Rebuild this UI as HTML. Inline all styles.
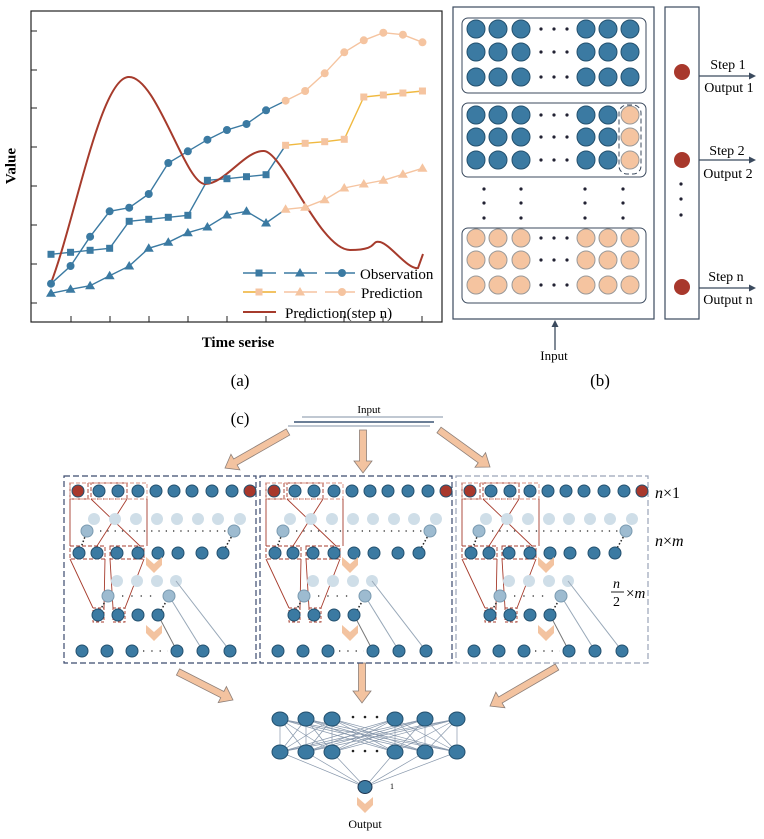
<!DOCTYPE html>
<html><head><meta charset="utf-8"><style>
body{margin:0;background:#fff}
svg text{font-family:"Liberation Serif",serif}
</style></head><body>
<svg id="s" xmlns="http://www.w3.org/2000/svg" width="764" height="834" viewBox="0 0 764 834">
<rect width="764" height="834" fill="#fff"/>
</svg>
<script>
const S=document.getElementById('s');let h='';
const B='#3b7aa2',BS='#23506e',P='#f5c4a0',R='#a63b2c';
function c(x,y,r,f,s){h+=`<circle cx="${x}" cy="${y}" r="${r}" fill="${f}" stroke="${s||'none'}" stroke-width="1"/>`;}
function ln(x1,y1,x2,y2,st,w,d){h+=`<line x1="${x1}" y1="${y1}" x2="${x2}" y2="${y2}" stroke="${st}" stroke-width="${w||1}" ${d?`stroke-dasharray="${d}"`:''}/>`;}
function t(x,y,s,sz,extra){h+=`<text x="${x}" y="${y}" font-size="${sz}" ${extra||''}>${s}</text>`;}
// ===== panel a
h+=`<rect x="31" y="11" width="411" height="311" fill="none" stroke="#222" stroke-width="1.2"/>`;
[31,70,108,147,186,225,264,303].forEach(y=>ln(31,y,37,y,'#222'));
for(let x=71;x<430;x+=39)ln(x,322,x,316,'#222');
const X=i=>51+i*19.55;
const cir=[283.7,266,236.7,211.3,207.7,194,163,151.3,139.7,130,124,110.3,100.7,91,73.3,52.3,40.3,32.7,34.7,42.3];
const sq=[254.3,252.3,250.3,248.3,221.3,219.3,217.3,215.3,180.3,178.7,176.7,174.7,145.3,143.3,141.7,139.3,97,95,93,91];
const tr=[293.3,289.3,285.7,275.7,266,248.3,242.3,232.7,227,215,211.3,223,209.3,207.3,199.7,188,184,180.3,174.3,168.3];
function poly(arr,a,b,col){let p=[];for(let i=a;i<=b;i++)p.push(X(i)+','+arr[i]);h+=`<polyline points="${p.join(' ')}" fill="none" stroke="${col}" stroke-width="1.4"/>`;}
function mk(type,x,y,col){if(type=='c')c(x,y,4,col);else if(type=='s')h+=`<rect x="${x-3.5}" y="${y-3.5}" width="7" height="7" fill="${col}"/>`;else h+=`<polygon points="${x},${y-5} ${x-5},${y+3.5} ${x+5},${y+3.5}" fill="${col}"/>`;}
poly(cir,0,12,B);poly(cir,12,19,P);poly(sq,0,12,B);poly(sq,12,19,'#f0b940');poly(tr,0,12,B);poly(tr,12,19,P);
h+=`<path d="M51,283 C75,220 100,80 128,77 S185,184 205,184 S245,150 264,151 S320,250 350,250 S370,240 380,242 S408,270 418,268 L423,254" fill="none" stroke="${R}" stroke-width="2"/>`;
for(let i=0;i<20;i++){const col=i<12?B:P;mk('c',X(i),cir[i],col);mk('s',X(i),sq[i],col);mk('t',X(i),tr[i],col);}
// legend
ln(243,273,355,273,B,1.4,'33 8');ln(243,292,355,292,P,1.4,'33 8');ln(243,292,276,292,'#f0b940',1.4);
mk('s',259,273,B);mk('t',300,273,B);mk('c',342,273,B);mk('s',259,292,P);mk('t',300,292,P);mk('c',342,292,P);
ln(243,312,276,312,R,2);
t(360,279,'Observation',15);t(361,298,'Prediction',15);t(285,318,'Prediction(step n)',15);
t(12,166,'Value',15,'font-weight="bold" transform="rotate(-90 12 166)" text-anchor="middle" dominant-baseline="middle"');
t(238,347,'Time serise',15,'font-weight="bold" text-anchor="middle"');
t(240,386,'(a)',17,'text-anchor="middle"');
// ===== panel b
h+=`<rect x="453" y="7" width="201" height="312" fill="none" stroke="#3b4a5e" stroke-width="1.2"/>`;
h+=`<rect x="665" y="7" width="34" height="312" fill="none" stroke="#3b4a5e" stroke-width="1.2"/>`;
[[18,93],[103,177],[228,303]].forEach(([a,b])=>h+=`<rect x="462" y="${a}" width="184" height="${b-a}" rx="6" fill="none" stroke="#3b4a5e" stroke-width="1"/>`);
const bx=[476,498,521,586,608,630],bd=[541,554,567];
const rows=[[29,52,77,'B'],[115,137,160,'M'],[238,260,285,'P']];
rows.forEach(r=>{for(let k=0;k<3;k++){const y=r[k];bx.forEach((x,j)=>{let f=B,s=BS;if(r[3]=='P'||(r[3]=='M'&&j==5)){f=P;s='#999';}c(x,y,9,f,s);});bd.forEach(x=>c(x,y,1.6,'#223'));}});
h+=`<rect x="619" y="105" width="22" height="69" rx="8" fill="none" stroke="#3b4a5e" stroke-dasharray="5 3"/>`;
[484,521,585,623].forEach(x=>[189,203,218].forEach(y=>c(x,y,1.6,'#223')));
[72,160,287].forEach(y=>c(682,y,8,'#a8382c'));[184,199,215].forEach(y=>c(681,y,1.6,'#223'));
function arr(x1,y,x2){ln(x1,y,x2-6,y,'#3b4a5e',1.3);h+=`<polygon points="${x2},${y} ${x2-7},${y-3.5} ${x2-7},${y+3.5}" fill="#3b4a5e"/>`;}
arr(699,76,756);arr(699,160,756);arr(699,288,756);
t(728,69,'Step 1',14,'text-anchor="middle"');t(729,92,'Output 1',14,'text-anchor="middle"');
t(727,155,'Step 2',14,'text-anchor="middle"');t(728,178,'Output 2',14,'text-anchor="middle"');
t(726,281,'Step n',14,'text-anchor="middle"');t(728,304,'Output n',14,'text-anchor="middle"');
ln(555,350,555,326,'#3b4a5e',1.3);h+=`<polygon points="555,320 551.5,327 558.5,327" fill="#3b4a5e"/>`;
t(554,360,'Input',13,'text-anchor="middle"');t(600,386,'(b)',17,'text-anchor="middle"');
// ===== panel c
t(240,424,'(c)',17,'text-anchor="middle"');t(369,413,'Input',11,'text-anchor="middle"');
ln(302,417,443,417,'#9aa8b8',1.2);ln(294,422,434,422,'#3b5575',1.4);ln(288,426,430,426,'#9aa8b8',1.2);
function parrow(x1,y1,x2,y2){const dx=x2-x1,dy=y2-y1,L=Math.hypot(dx,dy),a=Math.atan2(dy,dx)*180/Math.PI;
h+=`<polygon transform="translate(${x1},${y1}) rotate(${a})" points="0,-3.5 ${L-12},-3.5 ${L-12},-9 ${L},0 ${L-12},9 ${L-12},3.5 0,3.5" fill="#f3c3a0" stroke="#8d7f78" stroke-width="0.8"/>`;}
parrow(288,432,225,468);parrow(363,430,363,473);parrow(439,430,490,467);
parrow(178,672,233,700);parrow(362,663,362,703);parrow(557,667,490,706);
function chev(x,y){h+=`<polygon points="${x-8},${y-8} ${x},${y-1} ${x+8},${y-8} ${x+8},${y} ${x},${y+8} ${x-8},${y}" fill="#f3c3a0"/>`;}
const LB='#cfdee8',MB='#9dbbd0';
function box(o,col){
h+=`<rect x="${64+o}" y="476" width="${192}" height="187" fill="none" stroke="${col}" stroke-width="1.2" stroke-dasharray="6 3"/>`;
const X=x=>x+o;
// red
h+=`<g stroke="${R}" fill="none" stroke-width="0.9">`;
h+=`<rect x="${X(70)}" y="483" width="18" height="16" stroke-dasharray="4 2"/><rect x="${X(91)}" y="483" width="36" height="16" stroke-dasharray="4 2"/><rect x="${X(70)}" y="483" width="77" height="16" stroke-dasharray="4 2" stroke="#d89080"/>`;
h+=`<rect x="${X(70)}" y="546" width="35" height="13" stroke-dasharray="4 2"/><rect x="${X(110)}" y="546" width="34" height="13" stroke-dasharray="4 2"/>`;
h+=`<rect x="${X(93)}" y="608" width="11" height="14" stroke-dasharray="3 2"/><rect x="${X(113)}" y="608" width="12" height="14" stroke-dasharray="3 2"/>`;
h+=`<path d="M${X(70)},499 L${X(70)},546 M${X(147)},499 L${X(147)},546 M${X(91)},499 L${X(140)},546 M${X(127)},499 L${X(97)},546 M${X(70)},559 L${X(93)},608 M${X(105)},559 L${X(104)},608 M${X(110)},559 L${X(113)},608 M${X(144)},559 L${X(125)},608"/>`;
h+=`</g>`;
[78,99,118,138,156,174,192,212,232,250].forEach((x,i)=>c(X(x),491,6,(i==0||i==9)?'#a8382c':B,BS));
[94,115,136,157,177,198,218,240].forEach(x=>c(X(x),519,6,LB));
ln(X(100),531,X(226),531,'#222',1.3,'1.3 6');
ln(X(86),534,X(80),550,'#222',1.5,'1.5 2');ln(X(233),534,X(224),550,'#222',1.5,'1.5 2');
c(X(87),531,6,MB,'#7a9ab0');c(X(234),531,6,MB,'#7a9ab0');
[79,97,117,138,158,178,202,223].forEach(x=>c(X(x),553,6,B,BS));
chev(X(154),565);
[117,137,157,176].forEach(x=>c(X(x),581,6,LB));
ln(X(176),581,X(230),651,'#98a8b8',1);ln(X(169),596,X(203),651,'#98a8b8',1);ln(X(158),615,X(177),651,'#777',1);
ln(X(122),596,X(158),596,'#222',1.3,'1.3 8');
ln(X(106),600,X(99),612,'#222',1.5,'1.5 2');ln(X(167),600,X(160),612,'#222',1.5,'1.5 2');
c(X(108),596,6,MB,'#7a9ab0');c(X(169),596,6,MB,'#7a9ab0');
[98,118,138,158].forEach(x=>c(X(x),615,6,B,BS));
chev(X(154),633);
[82,107,132,177,203,230].forEach(x=>c(X(x),651,6,B,BS));
ln(X(143),651,X(168),651,'#222',1.3,'1.3 7');
}
box(0,'#3b4a6e');box(196,'#3b4a6e');box(392,'#9aa4b8');
h+=`<text x="655" y="498" font-size="16" font-style="italic">n<tspan font-style="normal">×1</tspan></text>`;
h+=`<text x="655" y="546" font-size="16" font-style="italic">n<tspan font-style="normal">×</tspan>m</text>`;
h+=`<text x="613" y="588" font-size="14" font-style="italic">n</text>`;ln(611,592,624,592,'#222',1);
h+=`<text x="613" y="606" font-size="14">2</text><text x="626" y="598" font-size="15"><tspan>×</tspan><tspan font-style="italic">m</tspan></text>`;
// bottom net
const nx=[280,306,332,395,425,457];
nx.forEach(a=>nx.forEach(b=>ln(a,719,b,752,'#8898ac',0.7)));
nx.forEach(a=>ln(a,752,365,787,'#8898ac',0.7));
nx.forEach(x=>{h+=`<ellipse cx="${x}" cy="719" rx="8" ry="7" fill="${B}" stroke="${BS}"/><ellipse cx="${x}" cy="752" rx="8" ry="7" fill="${B}" stroke="${BS}"/>`;});
[353,365,377].forEach(x=>{c(x,717,1.3,'#222');c(x,751,1.3,'#222');});
h+=`<ellipse cx="365" cy="787" rx="7" ry="6.5" fill="${B}" stroke="#1d3550"/>`;
t(390,789,'1',8);chev(365,805);
t(365,828,'Output',12,'text-anchor="middle"');
S.innerHTML+=h;
</script>
</body></html>
